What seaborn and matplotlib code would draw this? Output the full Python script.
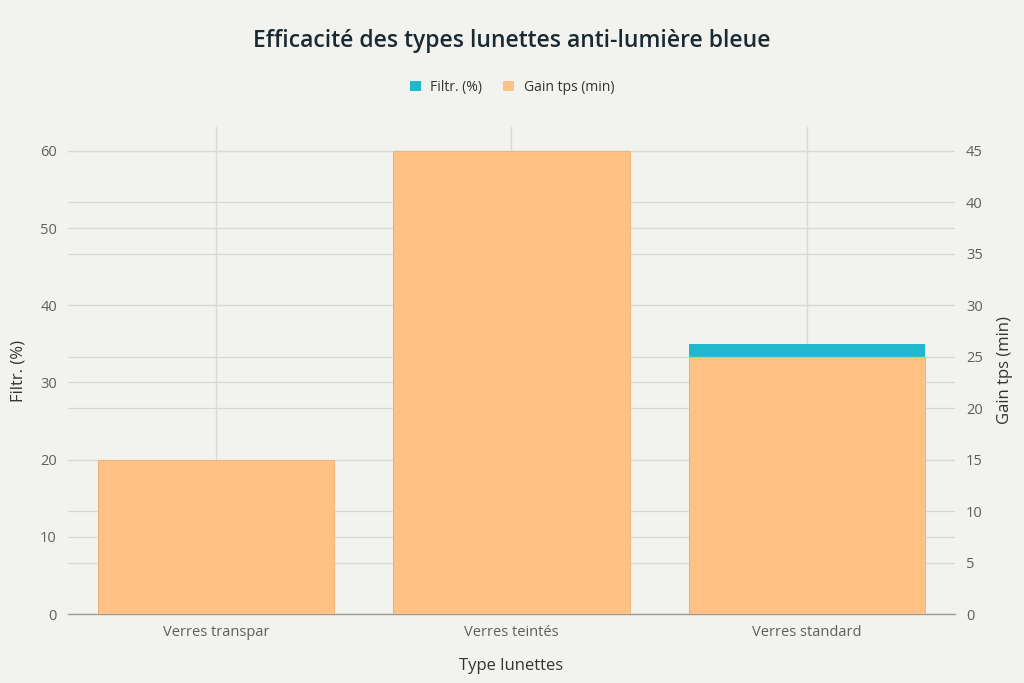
import matplotlib
matplotlib.use("Agg")
import matplotlib.pyplot as plt
import seaborn as sns
import pandas as pd
from matplotlib.patches import Patch

categories = ["Verres transpar", "Verres teintés", "Verres standard"]
filtr_pct = [20, 60, 35]
gain_min = [15, 45, 25]

title = "Efficacité des types lunettes anti-lumière bleue"
series_names = ["Filtr. (%)", "Gain tps (min)"]

df = pd.DataFrame({"type": categories, "filtr": filtr_pct, "gain": gain_min})

BG = "#f2f2ee"
TEAL = "#1FB8CD"
ORANGE = "#FFC185"
GRID = "#d9d9d4"
TXT = "#5f5f5f"

sns.set_theme(style="white")
plt.rcParams["font.family"] = ["Open Sans", "DejaVu Sans"]

fig = plt.figure(figsize=(10.24, 6.83), dpi=100, facecolor=BG)
ax = fig.add_axes([0.0664, 0.101, 0.866, 0.713])
ax.set_facecolor(BG)

sns.barplot(data=df, x="type", y="filtr", color=TEAL, width=0.8, ax=ax,
            saturation=1, edgecolor="none")
ax.set_ylim(0, 63.1)
ax.set_xlim(-0.5, 2.5)
ax.set_yticks(range(0, 61, 10))

ax2 = ax.twinx()
ax2.patch.set_visible(False)
sns.barplot(data=df, x="type", y="gain", color=ORANGE, width=0.8, ax=ax2,
            saturation=1, edgecolor="#f0b070", linewidth=0.6)
ax2.set_ylim(0, 63.1 * 0.75)
ax2.set_yticks(range(0, 46, 5))

for a in (ax, ax2):
    a.set_axisbelow(True)
    for s in a.spines.values():
        s.set_visible(False)
    a.tick_params(length=0, labelsize=10.5, labelcolor=TXT, pad=8)

ax.grid(True, axis="both", color=GRID, linewidth=0.9)
ax2.grid(True, axis="y", color=GRID, linewidth=0.9)
ax.spines["bottom"].set_visible(True)
ax.spines["bottom"].set_color("#9a9a9a")
ax.spines["bottom"].set_linewidth(1.0)

ax.set_xlabel("Type lunettes", fontsize=12, color="#333333", labelpad=13)
ax.set_ylabel("Filtr. (%)", fontsize=12, color="#333333", labelpad=10)
ax2.set_ylabel("Gain tps (min)", fontsize=12, color="#333333", labelpad=10)
ax2.set_xlabel("")

fig.suptitle(title, x=0.5, y=0.957, fontsize=16.5, fontweight="semibold",
             color="#1a2a33")

handles = [Patch(facecolor=TEAL, edgecolor="none"),
           Patch(facecolor=ORANGE, edgecolor="none")]
fig.legend(handles, series_names, loc="center", bbox_to_anchor=(0.5, 0.872),
           ncol=2, frameon=False, fontsize=10, handlelength=0.8,
           handleheight=0.8, handletextpad=0.7, columnspacing=1.5,
           labelcolor="#333333")

fig.savefig("out.png", dpi=100, facecolor=BG)
